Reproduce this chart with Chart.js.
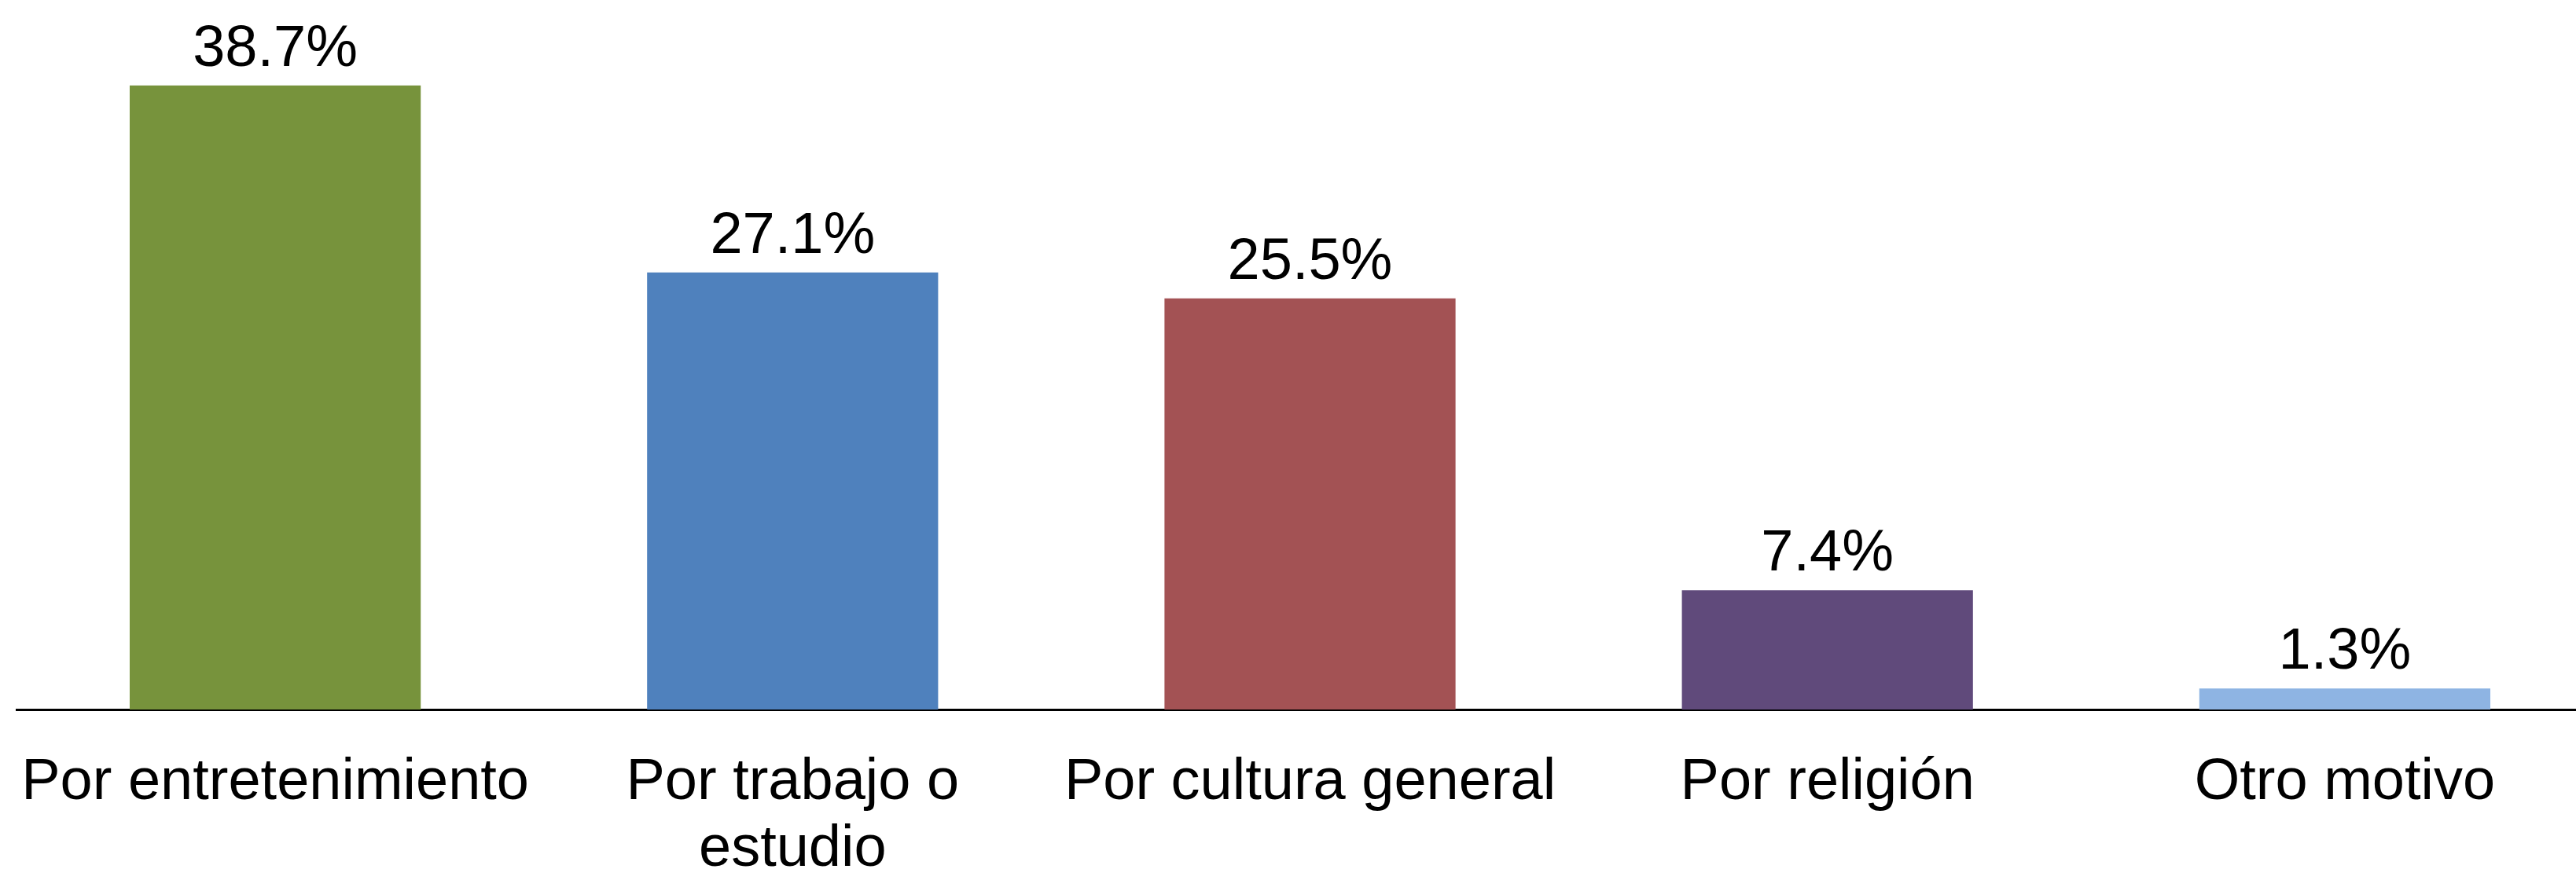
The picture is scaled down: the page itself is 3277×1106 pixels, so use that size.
<!DOCTYPE html>
<html>
<head>
<meta charset="utf-8">
<script src="https://cdn.jsdelivr.net/npm/chart.js@4"></script>
<style>
  html, body { margin: 0; padding: 0; background: #fff; overflow: hidden; }
  #wrap { width: 3312px; height: 1106px; }
</style>
</head>
<body>
<div id="wrap"><canvas id="barChart"></canvas></div>
<script>
var categories = ['Por entretenimiento', ['Por trabajo o', 'estudio'], 'Por cultura general', 'Por religión', 'Otro motivo'];
var values = [38.7, 27.1, 25.5, 7.4, 1.3];
var barColors = ['#77933C', '#4F81BD', '#A35254', '#604A7B', '#8EB4E3'];

// draws the "xx.x%" text above each bar
var valueLabels = {
    id: 'valueLabels',
    afterDatasetsDraw: function (chart) {
        var ctx = chart.ctx;
        var meta = chart.getDatasetMeta(0);
        ctx.save();
        ctx.font = '74px "Liberation Sans", Arial, sans-serif';
        ctx.fillStyle = '#000';
        ctx.textAlign = 'center';
        ctx.textBaseline = 'alphabetic';
        meta.data.forEach(function (bar, i) {
            ctx.fillText(values[i].toFixed(1) + '%', bar.x, bar.y - 25);
        });
        ctx.restore();
    }
};

var ctx = document.getElementById('barChart').getContext('2d');
var myBarChart = new Chart(ctx, {
    type: 'bar',
    data: {
        labels: categories,
        datasets: [{
            data: values,
            backgroundColor: barColors,
            borderWidth: 0,
            barPercentage: 0.5625,
            categoryPercentage: 1
        }]
    },
    options: {
        responsive: true,
        maintainAspectRatio: false,
        animation: false,
        layout: { autoPadding: false, padding: { left: 21, right: 0, top: 0, bottom: 0 } },
        plugins: {
            legend: { display: false },
            tooltip: { enabled: false }
        },
        scales: {
            x: {
                grid: { display: false, drawTicks: false },
                border: { display: true, color: '#000', width: 3 },
                ticks: {
                    color: '#000',
                    padding: 51,
                    maxRotation: 0,
                    autoSkip: false,
                    font: { family: '"Liberation Sans", Arial, sans-serif', size: 74, lineHeight: 1.15 }
                },
                afterFit: function (scale) {
                    scale.height = 203;
                    scale.paddingLeft = 0;
                    scale.paddingRight = 0;
                }
            },
            y: {
                display: false,
                min: 0,
                max: 44
            }
        }
    },
    plugins: [valueLabels]
});
</script>
</body>
</html>
